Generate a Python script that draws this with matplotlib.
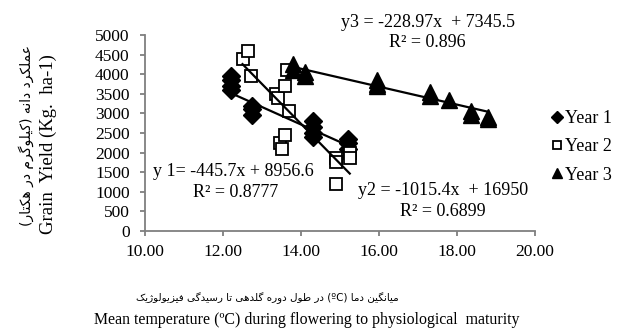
import matplotlib
matplotlib.use("Agg")
import matplotlib.pyplot as plt

# Grain yield vs mean temperature, three years (replicates stack on top of each other)
year1_temp = [12.2, 12.2, 12.2, 12.2, 12.75, 12.75, 12.75, 14.3, 14.3, 14.3, 14.3, 15.2, 15.2, 15.2]
year1_yield = [3950, 3850, 3700, 3600, 3200, 3100, 2950, 2800, 2650, 2500, 2400, 2350, 2250, 2100]

year2_temp = [12.5, 12.65, 12.72, 13.35, 13.4, 13.6, 13.65, 13.7, 13.45, 13.5, 13.6, 14.9, 14.9, 14.9, 15.25, 15.25]
year2_yield = [4400, 4600, 3950, 3500, 3400, 3700, 4100, 3050, 2250, 2100, 2450, 1850, 1750, 1200, 2000, 1850]

year3_temp = [13.8, 13.8, 14.1, 14.1, 15.95, 15.95, 15.95, 17.3, 17.3, 17.8, 18.35, 18.35, 18.8, 18.8]
year3_yield = [4250, 4100, 4050, 3950, 3850, 3750, 3700, 3550, 3450, 3350, 3050, 2950, 2900, 2850]

# linear trend coefficients (slope, intercept, r2)
fit1 = (-445.7, 8956.6, 0.8777)
fit2 = (-1015.4, 16950, 0.6899)
fit3 = (-228.97, 7345.5, 0.896)

x_ticks = [10, 12, 14, 16, 18, 20]
y_ticks = list(range(0, 5001, 500))

legend_labels = ["Year 1", "Year 2", "Year 3"]

ylabel_en = "Grain  Yield (Kg.  ha-1)"
xlabel_en = "Mean temperature (\u00baC) during flowering to physiological  maturity"
ylabel_fa = "عملکرد دانه (کیلوگرم در هکتار)"
xlabel_fa = "میانگین دما (\u00baC) در طول دوره گلدهی تا رسیدگی فیزیولوژیک"

# Persian presentation forms: isolated, final, initial, medial
FORMS = {
    "ا": ("\uFE8D", "\uFE8E"),
    "د": ("\uFEA9", "\uFEAA"),
    "ر": ("\uFEAD", "\uFEAE"),
    "ز": ("\uFEAF", "\uFEB0"),
    "ژ": ("\uFB8A", "\uFB8B"),
    "و": ("\uFEED", "\uFEEE"),
    "ت": ("\uFE95", "\uFE96", "\uFE97", "\uFE98"),
    "س": ("\uFEB1", "\uFEB2", "\uFEB3", "\uFEB4"),
    "ط": ("\uFEC1", "\uFEC2", "\uFEC3", "\uFEC4"),
    "ع": ("\uFEC9", "\uFECA", "\uFECB", "\uFECC"),
    "ف": ("\uFED1", "\uFED2", "\uFED3", "\uFED4"),
    "ل": ("\uFEDD", "\uFEDE", "\uFEDF", "\uFEE0"),
    "م": ("\uFEE1", "\uFEE2", "\uFEE3", "\uFEE4"),
    "ن": ("\uFEE5", "\uFEE6", "\uFEE7", "\uFEE8"),
    "ه": ("\uFEE9", "\uFEEA", "\uFEEB", "\uFEEC"),
    "ی": ("\uFBFC", "\uFBFD", "\uFBFE", "\uFBFF"),
    "ک": ("\uFB8E", "\uFB8F", "\uFB90", "\uFB91"),
    "گ": ("\uFB92", "\uFB93", "\uFB94", "\uFB95"),
}
MIRROR = {"(": ")", ")": "("}


def shape_token(tok):
    out = []
    for i, c in enumerate(tok):
        if c not in FORMS:
            out.append(c)
            continue
        prev = tok[i - 1] if i > 0 else None
        nxt = tok[i + 1] if i + 1 < len(tok) else None
        f = FORMS[c]
        jp = prev in FORMS and len(FORMS[prev]) == 4
        jn = len(f) == 4 and nxt in FORMS
        if jp and jn:
            out.append(f[3])
        elif jp:
            out.append(f[1])
        elif jn:
            out.append(f[2])
        else:
            out.append(f[0])
    return "".join(MIRROR.get(c, c) for c in reversed(out))


def rtl(text):
    words = []
    for tok in reversed(text.split(" ")):
        if any(c in FORMS for c in tok):
            words.append(shape_token(tok))
        else:
            words.append(tok)
    return " ".join(words)


plt.rcParams["font.family"] = "Liberation Serif"

fig = plt.figure(figsize=(6.18, 3.32), dpi=100)
ax = fig.add_axes([145 / 618, 1 - 231 / 332, 390 / 618, 196 / 332])

ax.plot(year1_temp, year1_yield, "D", color="black", markersize=9, label=legend_labels[0])
ax.plot(year2_temp, year2_yield, "s", mfc="white", mec="black", mew=1.3, markersize=9,
        label=legend_labels[1])
ax.plot(year3_temp, year3_yield, "^", color="black", markersize=11, label=legend_labels[2])

# trend lines over the range of each year
for temps, (a, b, _) in [(year1_temp, fit1), (year2_temp, fit2), (year3_temp, fit3)]:
    xs = [min(temps), max(temps)]
    ax.plot(xs, [a * x + b for x in xs], color="black", lw=1.6)

ax.set_xlim(10, 20)
ax.set_ylim(0, 5000)
ax.set_xticks(x_ticks)
ax.set_xticklabels([f"{v:.2f}" for v in x_ticks])
ax.set_yticks(y_ticks)
for side in ["top", "right"]:
    ax.spines[side].set_visible(False)
for side in ["left", "bottom"]:
    ax.spines[side].set_color("#7f7f7f")
    ax.spines[side].set_linewidth(1.3)
ax.tick_params(colors="#7f7f7f", labelcolor="black", labelsize=12.5, length=3.6, width=1.3)
ax.tick_params(axis="y", pad=7.5)
ax.tick_params(axis="x", pad=5.5)

fs = 13
ax.text(10.2, 1530, "y 1= -445.7x + 8956.6", fontsize=fs, va="center", ha="left")
ax.text(12.33, 990, f"R² = {fit1[2]}", fontsize=fs, va="center", ha="center")
ax.text(17.63, 1045, "y2 = -1015.4x  + 16950", fontsize=fs, va="center", ha="center")
ax.text(17.63, 485, f"R² = {fit2[2]}", fontsize=fs, va="center", ha="center")
ax.text(17.25, 5330, "y3 = -228.97x  + 7345.5", fontsize=fs, va="center", ha="center",
        clip_on=False)
ax.text(17.25, 4800, f"R² = {fit3[2]}", fontsize=fs, va="center", ha="center")

ax.legend(loc="center left", bbox_to_anchor=(552 / 618, 1 - 147 / 332),
          bbox_transform=fig.transFigure, frameon=False, fontsize=13,
          handlelength=0.5, handletextpad=0.2, labelspacing=0.62, markerscale=0.65,
          borderpad=0, borderaxespad=0)

fig.text(48 / 618, 1 - 144 / 332, ylabel_en, rotation=90, fontsize=13.5,
         ha="center", va="center")
fig.text(26 / 618, 1 - 136 / 332, rtl(ylabel_fa), rotation=90, fontsize=10,
         ha="center", va="center", family=["DejaVu Sans"])
fig.text(267 / 618, 1 - 298 / 332, rtl(xlabel_fa), fontsize=7.5,
         ha="center", va="center", family=["DejaVu Sans"])
fig.text(307 / 618, 1 - 320 / 332, xlabel_en, fontsize=11.4, ha="center", va="center")

fig.savefig("out.png", dpi=100)
